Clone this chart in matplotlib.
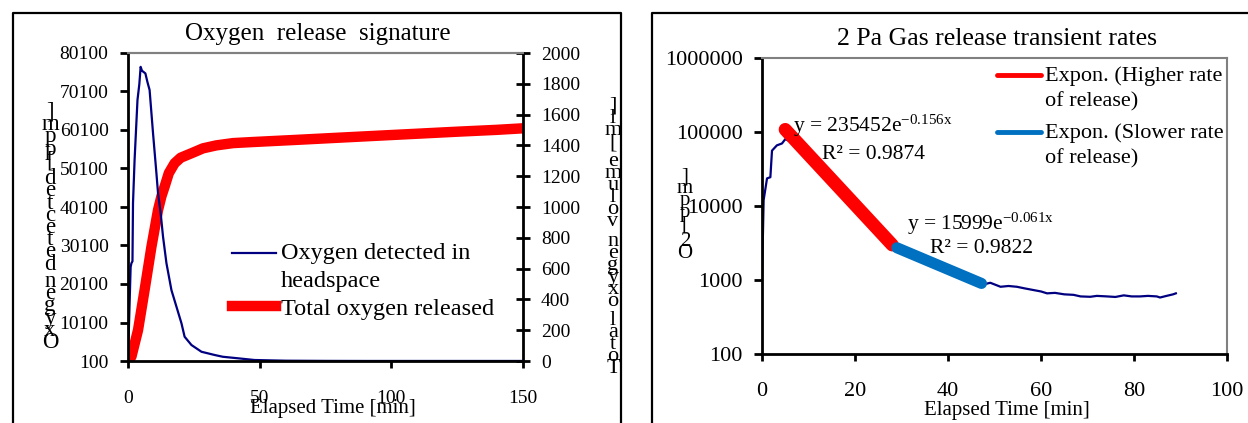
import numpy as np
import matplotlib
matplotlib.use("Agg")
import matplotlib.pyplot as plt
from matplotlib.lines import Line2D
from matplotlib.legend_handler import HandlerLine2D

plt.rcParams['font.family'] = 'Liberation Serif'
plt.rcParams['mathtext.fontset'] = 'custom'
plt.rcParams['mathtext.rm'] = 'Liberation Serif'
plt.rcParams['mathtext.it'] = 'Liberation Serif:italic'

# --- oxygen release signature (left) ---
o2_time = [0, 0.4, 1.0, 1.3, 1.7, 1.9, 2.5, 3.6, 4.3, 4.8, 5.3, 6.6, 7.4, 8.2, 9.5,
           10.8, 11.4, 12.4, 13.3, 14.6, 16.5, 18.4, 20.3, 21.5, 24.1, 27.9, 32.9,
           36, 41.8, 48, 55, 60, 75, 90, 110, 130, 150]
o2_ppm = [100, 10000, 24500, 25500, 26000, 41100, 52300, 67900, 72000, 76500, 75500,
          74800, 72500, 70500, 59300, 48800, 43700, 38500, 32400, 25500, 18500, 14200,
          9900, 6400, 4250, 2500, 1660, 1200, 800, 360, 250, 180, 130, 110, 110, 110,
          110]

total_time = [0, 1.3, 3.8, 6.3, 8.9, 11.4, 12.7, 13.9, 15.5, 17.7, 20, 24.1, 28.5,
              33.5, 39.9, 47.5, 65.2, 80, 95, 110, 125, 140, 150]
total_ml = [0, 28, 200, 461, 742, 980, 1070, 1132, 1220, 1284, 1320, 1349, 1381,
            1400, 1415, 1422, 1437, 1450, 1463, 1476, 1489, 1501, 1511]

# --- 2 Pa gas release (right) ---
pa_time = [0, 0.35, 1.08, 1.8, 2.15, 3.2, 4.3, 5.0, 8, 11, 14, 17, 20, 23, 26, 28,
           29.5, 33, 37, 41, 45, 47.1, 49.1, 51.3, 53, 54.8, 56.5, 58.4, 60, 61.3, 63,
           65, 67, 68.5, 70.6, 72, 74.2, 76, 77.8, 79.5, 81.3, 83, 84.9, 85.6, 87,
           88.4, 89]
pa_ppm = [1000, 12000, 23600, 24500, 56000, 66000, 70000, 80000, 67000, 42000,
          26000, 16500, 10500, 6500, 4100, 3000, 2700, 2150, 1700, 1300, 1000, 855,
          917, 810, 830, 810, 770, 731, 700, 660, 670, 640, 630, 600, 593, 610, 600,
          590, 620, 600, 600, 610, 600, 580, 610, 640, 660]

# exponential trendlines (coefficient, rate, start, end, r2)
fast_fit = (235452, -0.156, 5, 28, 0.9874)
slow_fit = (15999, -0.061, 29, 47.2, 0.9822)

W, H = 1248, 423
fig = plt.figure(figsize=(W / 100, H / 100), dpi=100)


def rect(x0, y0, x1, y1):
    return [x0 / W, 1 - y1 / H, (x1 - x0) / W, (y1 - y0) / H]


def fx(x):
    return x / W


def fy(y):
    return 1 - y / H


def stacked(x, y_bottom, y_top, text, size, space=0.5):
    # upright characters piled from the bottom baseline up to the top one
    units = sum(space if c == ' ' else 1 for c in text[:-1])
    step = (y_bottom - y_top) / units
    y = y_bottom
    for c in text:
        if c != ' ':
            fig.text(fx(x), fy(y), c, ha='center', va='baseline', fontsize=size)
        y -= step * (space if c == ' ' else 1)


class FirstLineHandler(HandlerLine2D):
    # put the legend line beside the first row of a wrapped label
    def create_artists(self, legend, orig_handle, xdescent, ydescent, width, height,
                       fontsize, trans):
        arts = super().create_artists(legend, orig_handle, xdescent, ydescent, width,
                                      height, fontsize, trans)
        for a in arts:
            a.set_ydata(np.asarray(a.get_ydata()) + 0.58 * fontsize)
        return arts


# outer chart frames
for xs, ys in [([13, 13, 621, 621], [H, 13, 13, H]), ([652, 652, W], [H, 13, 13])]:
    fig.add_artist(Line2D([fx(v) for v in xs], [fy(v) for v in ys], color='black',
                          lw=1.6, transform=fig.transFigure))

navy = '#000080'

# left chart
ax = fig.add_axes(rect(128, 53, 523, 361))
tw = ax.twinx()
ax.set_zorder(tw.get_zorder() + 1)
ax.patch.set_visible(False)

l_o2, = ax.plot(o2_time, o2_ppm, color=navy, lw=1.6)
l_tot, = tw.plot(total_time, total_ml, color='#ff0000', lw=7.5)
ax.set_xlim(0, 150)
ax.set_ylim(100, 80100)
tw.set_ylim(0, 2000)
ax.set_xticks([0, 50, 100, 150])
ax.set_yticks(np.arange(100, 80101, 10000))
tw.set_yticks(np.arange(0, 2001, 200))
ax.tick_params(axis='y', direction='out', length=6, width=2, labelsize=14, pad=8)
ax.tick_params(axis='x', direction='out', length=5, width=2, labelsize=14, pad=16)
tw.tick_params(axis='y', direction='inout', length=10, width=2, labelsize=14, pad=8)
for a in (ax, tw):
    for s in ('left', 'bottom', 'right'):
        a.spines[s].set_linewidth(2)
    a.spines['top'].set_color('#808080')
    a.spines['top'].set_linewidth(1.5)
ax.spines['right'].set_visible(False)
tw.spines['left'].set_visible(False)
tw.spines['bottom'].set_visible(False)
ax.set_xlabel('Elapsed Time [min]', fontsize=15, va='center')
ax.xaxis.set_label_coords((333 - 128) / 395, -(408 - 361) / 308)
fig.text(fx(318), fy(40), 'Oxygen  release  signature', ha='center', va='baseline',
         fontsize=18)
stacked(50, 348, 118, 'Oxygen detected [ppm]', 16.5, space=0.4)
stacked(613, 373, 111, 'Total oxygen volume [ml]', 16, space=0.6)
leg_l = ax.legend([l_o2, l_tot], ['Oxygen detected in\nheadspace', 'Total oxygen released'],
                  loc='upper left', bbox_to_anchor=(fx(232), fy(243)),
                  bbox_transform=fig.transFigure, frameon=False, fontsize=17.5,
                  borderpad=0, borderaxespad=0, handlelength=1.8, handletextpad=0.2,
                  labelspacing=0.22, handler_map={l_o2: FirstLineHandler()})
for t in leg_l.get_texts():
    t.set_linespacing(1.46)

# right chart
bx = fig.add_axes(rect(762, 58, 1227, 354))
bx.plot(pa_time, pa_ppm, color=navy, lw=1.6)
fits = []
for (a0, k, t0, t1, r2), col, lw in [(fast_fit, '#ff0000', 9.5), (slow_fit, '#0070c0', 8)]:
    tt = np.linspace(t0, t1, 60)
    ln, = bx.plot(tt, a0 * np.exp(k * tt), color=col, lw=lw, solid_capstyle='round')
    fits.append(ln)
bx.set_yscale('log')
bx.set_xlim(0, 100)
bx.set_ylim(100, 1e6)
bx.set_xticks(np.arange(0, 101, 20))
decades = [100, 1000, 10000, 100000, 1000000]
bx.set_yticks(decades)
bx.set_yticklabels([str(d) for d in decades])
bx.minorticks_off()
bx.tick_params(axis='y', direction='out', length=6, width=2, labelsize=16, pad=8)
bx.tick_params(axis='x', direction='out', length=5, width=2, labelsize=16, pad=15)
for s in ('left', 'bottom'):
    bx.spines[s].set_linewidth(2)
for s in ('top', 'right'):
    bx.spines[s].set_color('#808080')
    bx.spines[s].set_linewidth(1.5)
bx.set_xlabel('Elapsed Time [min]', fontsize=15, va='center')
bx.xaxis.set_label_coords((1007 - 762) / 465, -(410 - 354) / 296)
fig.text(fx(997), fy(45), '2 Pa Gas release transient rates', ha='center',
         va='baseline', fontsize=18.5)
stacked(685, 258, 181, 'O2 [ppm]', 15, space=0.4)

for (a0, k, t0, t1, r2), (ex, ey), (rx, ry) in [
        (fast_fit, (793, 132), (822, 159)), (slow_fit, (907, 230), (930, 253))]:
    fig.text(fx(ex), fy(ey), 'y = %de$^{\\mathrm{%.3fx}}$' % (a0, k), va='baseline',
             fontsize=15.5)
    fig.text(fx(rx), fy(ry), 'R² = %.4f' % r2, va='baseline', fontsize=15.5)

leg = bx.legend(fits, ['Expon. (Higher rate\nof release)', 'Expon. (Slower rate\nof release)'],
                loc='upper left', bbox_to_anchor=(fx(997), fy(66)),
                bbox_transform=fig.transFigure, frameon=False, fontsize=16, borderpad=0,
                borderaxespad=0, handlelength=2.0, handletextpad=0.15, labelspacing=0.49,
                handler_map={fits[0]: FirstLineHandler(), fits[1]: FirstLineHandler()})
for h in leg.legend_handles:
    h.set_linewidth(3.5)
for t in leg.get_texts():
    t.set_linespacing(1.47)

fig.savefig('out.png', dpi=100)
